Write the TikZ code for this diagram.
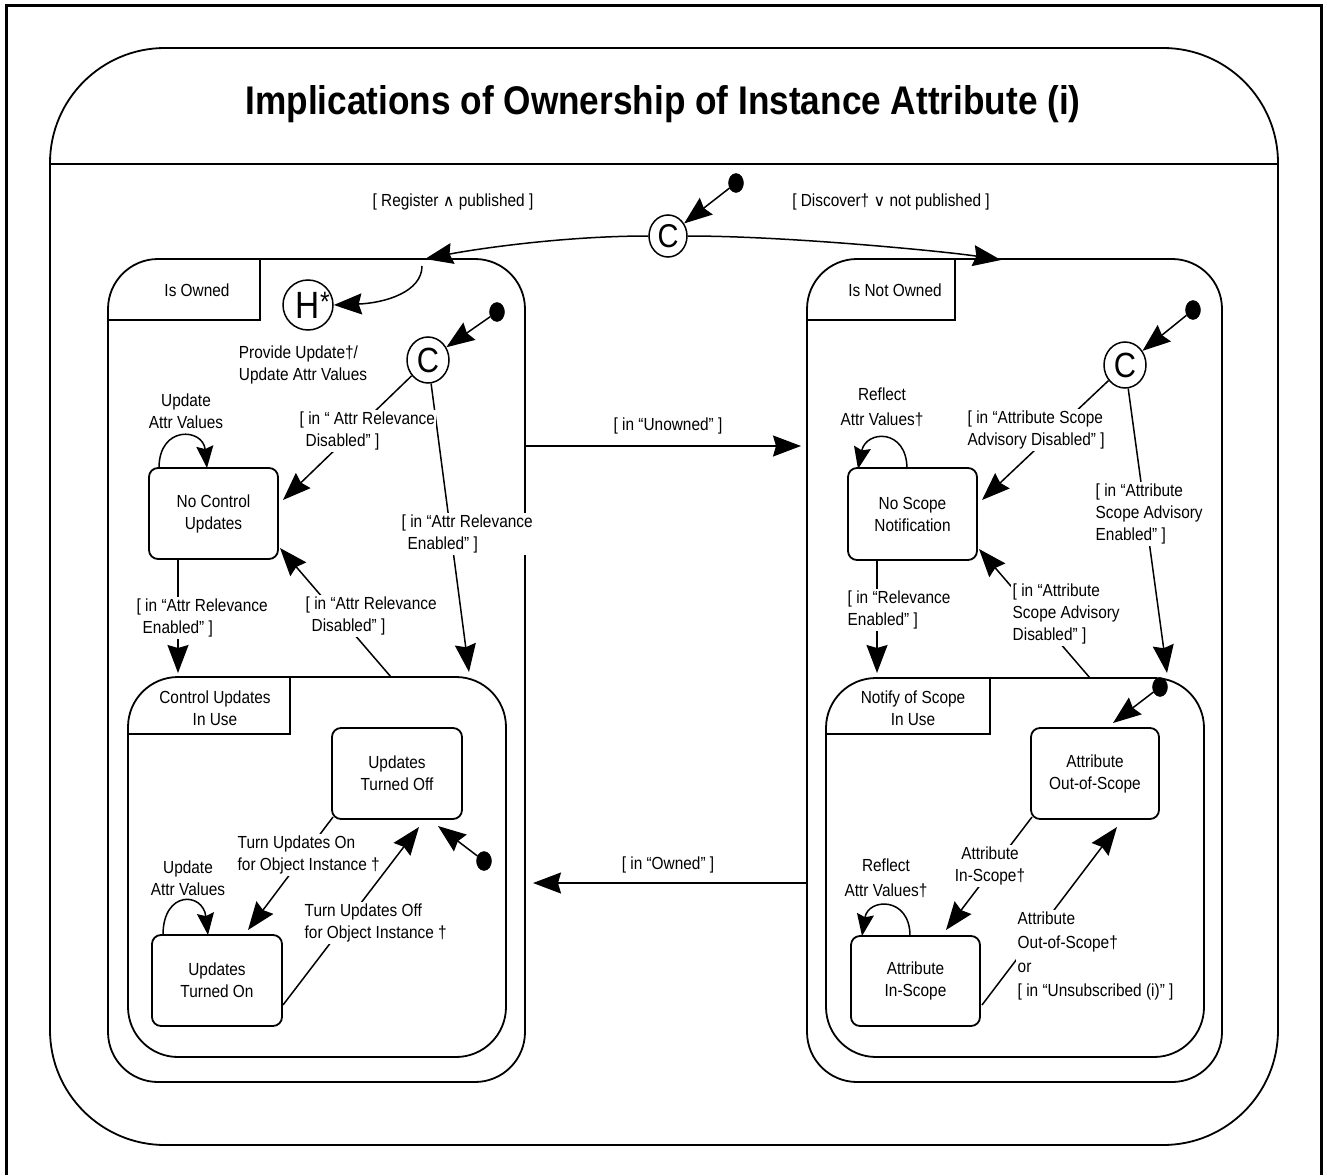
\documentclass[tikz,border=0pt]{standalone}
\usepackage{fontspec}
\setmainfont{Liberation Sans}[FakeStretch=0.88]
\newfontfamily\symf{DejaVu Sans}
\usetikzlibrary{arrows.meta,shapes.geometric}
\newcommand\lblfont{\fontsize{17.5}{22}\selectfont}
\newcommand\andsym{{\symf\fontsize{16}{16}\selectfont ∧}}
\newcommand\orsym{{\symf\fontsize{16}{16}\selectfont ∨}}
\begin{document}
\begin{tikzpicture}[x=1pt,y=-1pt,
  every node/.style={font=\lblfont},
  frame/.style={line width=1.8pt},
  region/.style={draw,line width=1.8pt,rounded corners=50pt,inner sep=0pt},
  stbox/.style={draw,line width=1.8pt,rounded corners=9pt,align=center,inner sep=0pt,
    minimum width=129pt,minimum height=91pt},
  pick/.style={draw,ellipse,line width=1.5pt,inner sep=0pt,minimum width=42pt,
    minimum height=46pt,font=\fontsize{35}{35}\selectfont},
  dot/.style={draw,ellipse,fill=black,inner sep=0pt,minimum width=15pt,minimum height=19pt},
  tr/.style={line width=1.5pt,-{Stealth[length=28pt,width=21pt,inset=3pt]}},
  looptr/.style={line width=1.5pt,-{Stealth[length=22pt,width=17pt,inset=3pt]}},
  lbl/.style={align=left,inner sep=1.5pt,fill=white},
  clbl/.style={align=center,inner sep=1.5pt,fill=white},
  txt/.style={align=center,inner sep=0pt},
]
\useasboundingbox (0,0) rectangle (1329,1174);

% page frame
\draw[line width=3pt] (6,6) rectangle (1321,1182);

% enclosing state with title compartment
\node[draw,line width=1.8pt,rounded corners=115pt,minimum width=1228pt,
  minimum height=1097pt,inner sep=0pt] (diagram) at (664,596.5) {};
\draw[frame] (50,164) -- (1278,164);
\node[font=\fontsize{40}{48}\selectfont\bfseries] (title) at (663,104)
  {Implications of Ownership of Instance Attribute (i)};

% top-level choice
\node[dot] (d0) at (736,183) {};
\node[pick,minimum width=38pt,minimum height=42pt,font=\fontsize{33}{33}\selectfont]
  (c0) at (668,236) {C};
\draw[tr] (d0) -- (c0);
\coordinate (ownTop) at (425,259);
\coordinate (notTop) at (1001,260);
\draw[tr] (c0.west) .. controls (560,236) and (470,250) .. (ownTop);
\draw[tr] (c0.east) .. controls (790,236) and (950,252) .. (notTop);
\node[txt] (regLbl) at (453,202) {[ Register \andsym\ published ]};
\node[txt] (disLbl) at (891,202) {[ Discover† \orsym\ not published ]};

% ---------------- Is Owned ----------------
\node[region,minimum width=417pt,minimum height=823pt] (owned) at (316.5,670.5) {};
\draw[frame] (108,320) -| (260,259);
\node[txt] (ownedLbl) at (197,290) {Is Owned};

\node[draw,circle,line width=1.5pt,minimum size=50pt,inner sep=0pt] (hist) at (308,305)
  {\fontsize{38}{38}\selectfont H\rlap{\raisebox{7pt}{\fontsize{28}{28}\selectfont *}}};
\coordinate (histIn) at (422,266);
\draw[tr] (histIn) .. controls (422,292) and (385,303) .. (hist.east);
\node[align=left,inner sep=0pt] (provLbl) at (303,365) {Provide Update†/\\Update Attr Values};

\node[dot] (d1) at (497,312) {};
\node[pick] (c1) at (428,360) {C};
\draw[tr] (d1) -- (c1);

\node[stbox] (ncu) at (213.5,513.5) {No Control\\Updates};
\coordinate (ncuIn1) at (283,500);
\coordinate (cuTop1) at (469,672);
\draw[tr] (c1) -- (ncuIn1);
\draw[tr] (c1) -- (cuTop1);

\draw[looptr] (159,468) .. controls (159,425) and (203,428) .. (207,468);
\node[txt] (ncuLoop) at (186,411) {Update\\Attr Values};

\coordinate (ncuOut) at (178,559);
\coordinate (cuTop2) at (178,673);
\draw[tr] (ncuOut) -- (cuTop2);
\coordinate (cuTop3) at (391,677);
\coordinate (ncuIn2) at (280,548);
\draw[tr] (cuTop3) -- (ncuIn2);

% Control Updates In Use
\node[region,minimum width=378pt,minimum height=380pt] (cuiu) at (317,867) {};
\draw[frame] (128,734) -| (290,677);
\node[txt] (cuiuLbl) at (215,708) {Control Updates\\In Use};

\node[stbox,minimum width=130pt] (off) at (397,773.5) {Updates\\Turned Off};
\node[stbox,minimum width=130pt] (on) at (217,980.5) {Updates\\Turned On};
\node[dot] (d2) at (484,861) {};
\coordinate (offIn) at (438,826);
\draw[tr] (d2) -- (offIn);
\coordinate (offOut) at (333,817);
\coordinate (onIn) at (248,930);
\draw[tr] (offOut) -- (onIn);
\coordinate (onOut) at (283,1005);
\coordinate (offIn2) at (419,827);
\draw[tr] (onOut) -- (offIn2);
\draw[looptr] (163,935) .. controls (163,890) and (203,892) .. (208,935);
\node[txt] (onLoop) at (188,878) {Update\\Attr Values};

% guard labels (left)
\node[lbl,anchor=west] (g1) at (298,431) {[ in “ Attr Relevance\\\hspace{6pt}Disabled” ]};
\node[lbl,anchor=west] (g2) at (400,534) {[ in “Attr Relevance\\\hspace{6pt}Enabled” ]};
\node[lbl,anchor=west] (g3) at (135,618) {[ in “Attr Relevance\\\hspace{6pt}Enabled” ]};
\node[lbl,anchor=west] (g4) at (304,616) {[ in “Attr Relevance\\\hspace{6pt}Disabled” ]};
\node[lbl,anchor=west] (g5) at (236,855) {Turn Updates On\\for Object Instance †};
\node[lbl,anchor=west] (g6) at (303,923) {Turn Updates Off\\for Object Instance †};

% ---------------- between the two states ----------------
\coordinate (uoA) at (525,446);
\coordinate (uoB) at (801,446);
\draw[tr] (uoA) -- (uoB);
\node[txt] (unownLbl) at (668,426) {[ in “Unowned” ]};
\coordinate (owA) at (807,883);
\coordinate (owB) at (533,883);
\draw[tr] (owA) -- (owB);
\node[txt] (ownLbl) at (668,865) {[ in “Owned” ]};

% ---------------- Is Not Owned ----------------
\node[region,minimum width=415pt,minimum height=823pt] (notowned) at (1014.5,670.5) {};
\draw[frame] (807,320) -| (955,259);
\node[txt] (notLbl) at (895,290) {Is Not Owned};

\node[dot] (d3) at (1193,310) {};
\node[pick] (c2) at (1125,365) {C};
\draw[tr] (d3) -- (c2);

\node[stbox,minimum height=92pt] (nsn) at (912.5,514) {No Scope\\Notification};
\coordinate (nsnIn1) at (982,500);
\coordinate (nfTop1) at (1167,673);
\draw[tr] (c2) -- (nsnIn1);
\draw[tr] (c2) -- (nfTop1);
\draw[looptr] (907,469) .. controls (907,428) and (866,430) .. (858,469);
\node[txt] (nsnLoop) at (882,407) {Reflect\\[3pt]Attr Values†};

\coordinate (nsnOut) at (877,561);
\coordinate (nfTop2) at (877,673);
\draw[tr] (nsnOut) -- (nfTop2);
\coordinate (nfTop3) at (1090,678);
\coordinate (nsnIn2) at (979,549);
\draw[tr] (nfTop3) -- (nsnIn2);

% Notify of Scope In Use
\node[region,minimum width=378pt,minimum height=379pt] (notify) at (1015,867.5) {};
\draw[frame] (826,734) -| (990,678);
\node[txt] (notifyLbl) at (913,708) {Notify of Scope\\In Use};

\node[stbox,minimum width=128pt] (oos) at (1095,773.5) {Attribute\\Out-of-Scope};
\node[stbox,minimum height=90pt] (ins) at (915.5,981) {Attribute\\In-Scope};
\node[dot] (d4) at (1160,687) {};
\coordinate (oosIn) at (1113,723);
\draw[tr] (d4) -- (oosIn);
\coordinate (oosOut) at (1032,817);
\coordinate (insIn) at (946,930);
\draw[tr] (oosOut) -- (insIn);
\coordinate (insOut) at (982,1005);
\coordinate (oosIn2) at (1117,827);
\draw[tr] (insOut) -- (oosIn2);
\draw[looptr] (910,936) .. controls (910,896) and (868,898) .. (862,936);
\node[txt] (insLoop) at (886,878) {Reflect\\[3pt]Attr Values†};

% guard labels (right)
\node[lbl,anchor=west] (h1) at (966,430) {[ in “Attribute Scope\\Advisory Disabled” ]};
\node[lbl,anchor=west] (h2) at (1094,514) {[ in “Attribute\\Scope Advisory\\Enabled” ]};
\node[lbl,anchor=west] (h3) at (846,610) {[ in “Relevance\\Enabled” ]};
\node[lbl,anchor=west] (h4) at (1011,614) {[ in “Attribute\\Scope Advisory\\Disabled” ]};
\node[clbl] (h5) at (990,866) {Attribute\\In-Scope†};
\node[lbl,anchor=west,font=\fontsize{17.5}{24}\selectfont] (h6) at (1016,956)
  {Attribute\\Out-of-Scope†\\or\\{[} in “Unsubscribed (i)” ]};
\end{tikzpicture}
\end{document}
